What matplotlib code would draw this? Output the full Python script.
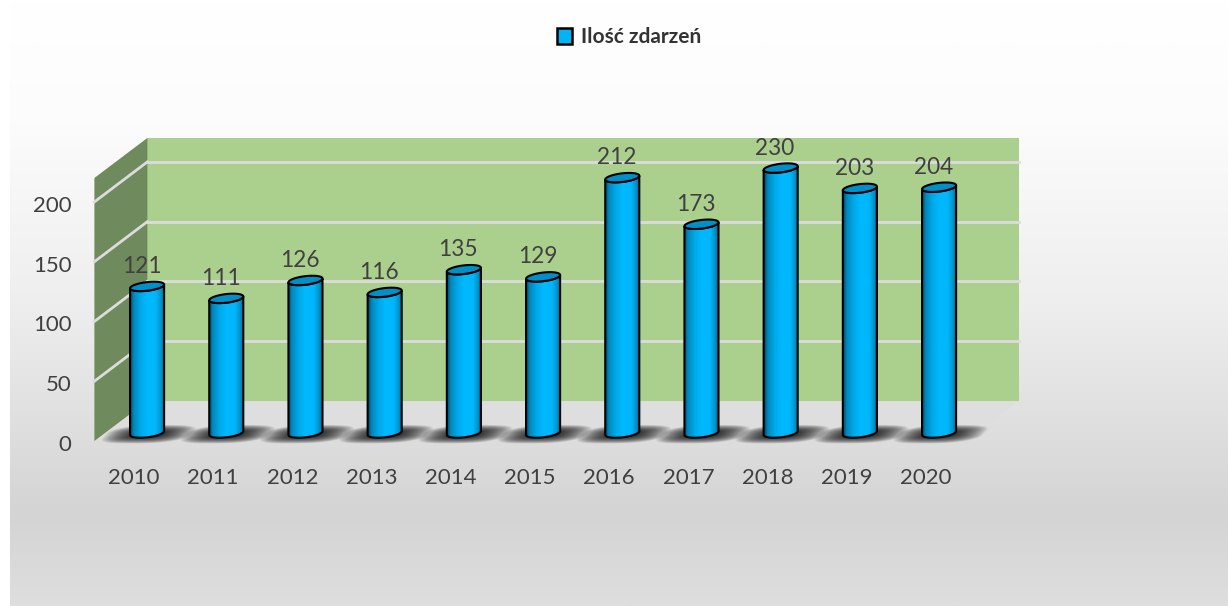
import matplotlib
matplotlib.use("Agg")
import matplotlib.pyplot as plt
import numpy as np
from matplotlib.colors import LinearSegmentedColormap
from matplotlib.patches import PathPatch, Patch, Polygon
from matplotlib.path import Path
from matplotlib.transforms import ScaledTranslation

years = ["2010", "2011", "2012", "2013", "2014", "2015", "2016", "2017", "2018", "2019", "2020"]
events = [121, 111, 126, 116, 135, 129, 212, 173, 230, 203, 204]
y_ticks = [0, 50, 100, 150, 200]
y_max = 220
legend_label = "Ilość zdarzeń"

plt.rcParams["font.family"] = ["Lato", "DejaVu Sans"]

W, H = 1228, 606
TEXT = "#404040"
GRID = "#dcdcdc"

# wall depth and bar offset in data units (x = categories, y = value)
depth_x, depth_y = 0.669, 33.5
bar_x, bar_y = 0.165, 6.7
rx, ry, tilt = 0.215, 3.6, 1.6

fig = plt.figure(figsize=(W / 100, H / 100), dpi=100, facecolor="white")

# page background
bg = fig.add_axes([10 / W, 0, 1 - 10 / W, 1], zorder=0)
bg_cmap = LinearSegmentedColormap.from_list(
    "bg", [(0, "#ffffff"), (0.2, "#fcfcfc"), (0.5, "#eeeeee"), (0.85, "#d4d4d4"), (1, "#dedede")]
)
bg.imshow(np.linspace(0, 1, 300)[:, None], cmap=bg_cmap, aspect="auto", extent=(0, 1, 0, 1), origin="upper")
bg.axis("off")

ax = fig.add_axes([94.4 / W, (H - 441) / H, 871.2 / W, 263 / H], zorder=1)
ax.patch.set_alpha(0)
for s in ax.spines.values():
    s.set_visible(False)

x0, x1 = -0.5, len(years) - 0.5

# floor, back wall, side wall
ax.add_patch(Polygon([(x0, 0), (x1, 0), (x1 + depth_x, depth_y), (x0 + depth_x, depth_y)],
                     fc="#dedede", ec="none", clip_on=False, zorder=1))
ax.add_patch(Polygon([(x0 + depth_x, depth_y), (x1 + depth_x, depth_y),
                      (x1 + depth_x, y_max + depth_y), (x0 + depth_x, y_max + depth_y)],
                     fc="#abd08d", ec="none", clip_on=False, zorder=1))
ax.add_patch(Polygon([(x0, 0), (x0 + depth_x, depth_y), (x0 + depth_x, y_max + depth_y), (x0, y_max)],
                     fc="#6f8a5c", ec="none", clip_on=False, zorder=2))

for v in y_ticks[1:]:
    ax.plot([x0 + depth_x, x1 + depth_x], [v + depth_y, v + depth_y], color=GRID, lw=2, clip_on=False, zorder=3)
    ax.plot([x0, x0 + depth_x], [v, v + depth_y], color=GRID, lw=2, clip_on=False, zorder=3)

cyl_cmap = LinearSegmentedColormap.from_list(
    "cyl", [(0, "#004a6c"), (0.1, "#0088bc"), (0.3, "#00a8e8"), (0.5, "#00b9ff"),
            (0.75, "#00b6fb"), (0.9, "#0092c8"), (1, "#005f86")]
)

t = np.linspace(0, 2 * np.pi, 80)
for i, val in enumerate(events):
    cx = i + bar_x
    base = bar_y
    top = min(val, y_max) + bar_y + 1.6

    # shadow on the floor, soft edge from many faint layers
    for r in np.linspace(1.08, 0.2, 30):
        c, s = np.cos(t), np.sin(t)
        sx = cx + 0.02 + 0.5 * r * np.sign(c) * np.abs(c) ** 0.7 + 0.2 * r * s
        sy = base - 1.0 + 7.2 * r * np.sign(s) * np.abs(s) ** 0.7
        ax.fill(sx, sy, color="black", alpha=0.05, lw=0, clip_on=False, zorder=4)

    # cylinder body: bottom half of the lower ellipse, then back over the top
    a = np.linspace(np.pi, 2 * np.pi, 40)
    bx = cx + rx * np.cos(a)
    by = base + ry * np.sin(a) + tilt * np.cos(a)
    a2 = a[::-1]
    tx = cx + rx * np.cos(a2)
    ty = top + ry * np.sin(a2) + tilt * np.cos(a2)
    body = Path(np.column_stack([np.r_[bx, tx, bx[0]], np.r_[by, ty, by[0]]]), closed=False)
    outline = PathPatch(body, fc="none", ec="black", lw=1.5, clip_on=False, zorder=6 + i * 0.01)
    ax.add_patch(outline)
    img = ax.imshow(np.linspace(0, 1, 64)[None, :], cmap=cyl_cmap, aspect="auto",
                    extent=(cx - rx, cx + rx, base - ry - tilt, top + tilt),
                    zorder=5 + i * 0.01)
    img.set_clip_path(PathPatch(body, transform=ax.transData))
    img.set_clip_box(fig.bbox)

    # top ellipse
    ax.fill(cx + rx * np.cos(t), top + ry * np.sin(t) + tilt * np.cos(t), fc="#0090c8", ec="black",
            lw=1.5, clip_on=False, zorder=7 + i * 0.01)

    ax.text(cx - 0.07, top + 16.7, str(val), ha="center", va="center", color=TEXT, fontsize=16.3,
            zorder=9, clip_on=False)

ax.set_xlim(x0, x1)
ax.set_ylim(0, y_max)
ax.set_xticks(range(len(years)))
ax.set_xticklabels(years)
ax.set_yticks(y_ticks)
ax.tick_params(axis="x", length=0, pad=19.5, labelsize=16, labelcolor=TEXT)
ax.tick_params(axis="y", length=0, pad=16.5, labelsize=16, labelcolor=TEXT)
for lbl in ax.get_yticklabels():
    lbl.set_transform(lbl.get_transform() + ScaledTranslation(0, -2 / 100, fig.dpi_scale_trans))

fig.legend(handles=[Patch(fc="#00b4f5", ec="black", lw=1.8, label=legend_label)],
           loc="center", bbox_to_anchor=(629 / W, (H - 37) / H), frameon=False, handlelength=0.72,
           handleheight=0.8, handletextpad=0.42, labelcolor="#333333",
           prop={"family": "Lato", "weight": "bold", "size": 15})

fig.savefig("out.png", dpi=100)
